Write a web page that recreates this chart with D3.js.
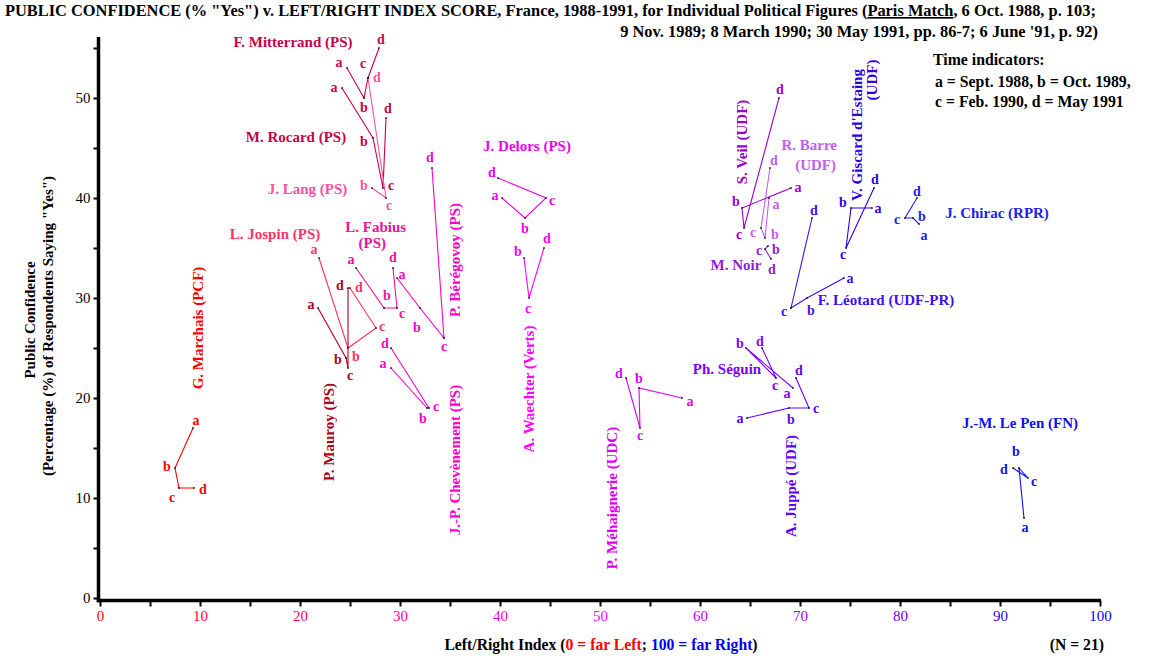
<!DOCTYPE html>
<html>
<head>
<meta charset="utf-8">
<script src="https://cdn.jsdelivr.net/npm/d3@7"></script>
<style>
body { margin: 0; background: #fff; }
svg text { font-family: "Liberation Serif", "Times New Roman", serif; }
</style>
</head>
<body>
<div id="container"></div>
<script>
// figures, in the order of the survey table
const figures = [
	"F. Mitterrand (PS)", "M. Rocard (PS)", "J. Lang (PS)", "L. Jospin (PS)",
	"P. Mauroy (PS)", "L. Fabius (PS)", "P. Bérégovoy (PS)", "J.-P. Chevènement (PS)",
	"G. Marchais (PCF)", "J. Delors (PS)", "A. Waechter (Verts)", "P. Méhaignerie (UDC)",
	"S. Veil (UDF)", "R. Barre (UDF)", "M. Noir", "Ph. Séguin",
	"A. Juppé (UDF)", "F. Léotard (UDF-PR)", "V. Giscard d'Estaing (UDF)", "J. Chirac (RPR)",
	"J.-M. Le Pen (FN)"
];

const timeLetters = ["a", "b", "c", "d"];

// left/right index score at a, b, c, d (null = not asked)
const leftRight = [
	[24.7, 26.4, 26.8, 27.9],
	[24.2, 27.3, 28.3, 28.6],
	[null, 27.2, 28.6, 26.8],
	[21.9, 24.8, 27.6, 25.0],
	[21.8, 24.6, 24.8, 24.8],
	[25.6, 28.4, 29.7, 29.3],
	[29.7, 32.0, 34.4, 33.2],
	[29.1, 32.7, 32.9, 29.1],
	[9.3, 7.5, 7.9, 9.4],
	[40.2, 42.5, 44.6, 39.8],
	[null, 42.4, 42.9, 44.4],
	[58.2, 53.9, 54.0, 52.6],
	[69.1, 64.2, 64.4, 67.9],
	[66.9, 66.5, 66.1, 67.0],
	[null, 66.8, 66.5, 67.1],
	[69.3, 64.6, 67.6, 66.2],
	[64.7, 68.9, 70.9, 69.6],
	[74.4, 70.7, 69.1, 71.2],
	[77.2, 75.1, 74.6, 77.4],
	[81.9, 81.3, 80.5, 81.7],
	[92.4, 91.9, 92.8, 91.3]
];

// public confidence, % "yes"
const confidence = [
	[53, 50, 52, 55],
	[51, 46, 41, 48],
	[null, 41, 40, 52],
	[34, 25, 27, 31],
	[29, 24, 23, 31],
	[33, 29, 29, 33],
	[32, 29, 26, 43],
	[23, 19, 19, 25],
	[17, 13, 11, 11],
	[40, 38, 40, 42],
	[null, 34, 30, 35],
	[20, 21, 17, 22],
	[41, 39, 37, 50],
	[40, 36, 37, 43],
	[null, 35.2, 34.9, 33.9],
	[21, 25, 22, 25],
	[18, 19, 19, 22],
	[32, 30, 29, 38],
	[39, 39, 35, 41],
	[37.4, 38, 38, 40],
	[8, 13, 12, 13]
];

const xTicks = d3.range(0, 101, 5);
const xTickLabels = [0, 10, 20, 30, 40, 50, 60, 70, 80, 90, 100];
const yTicks = d3.range(0, 56, 5);
const yTickLabels = [0, 10, 20, 30, 40, 50];

// ---- styles / layout (not data) ----
const figColors = [
	"#c8004a", "#c8004a", "#ff4f9f", "#ff3366", "#b00020", "#f0109a", "#ff00c8", "#ff00cc",
	"#ff0000", "#ee00ee", "#ff00ff", "#e000f0", "#9900cc", "#c060f0", "#9020d0", "#8000ff",
	"#6000ff", "#4010f0", "#3000e0", "#2020f0", "#1010f0"
];

// pixel offsets of the a/b/c/d letters from their point
const letterOffsets = [
	[[-8,-6],[0,9],[-5,-15],[2,-9]],
	[[-8,-1],[-9,3],[8,-3],[2,-10]],
	[null,[-8,-3],[3,7],[9,-1]],
	[[-5,-9],[8,8],[6,-2],[9,-1]],
	[[-7,-4],[-8,1],[2,7],[-8,-3]],
	[[-5,-9],[3,-13],[5,5],[0,-11]],
	[[5,-4],[-3,19],[0,8],[-2,-11]],
	[[-8,-5],[-4,10],[7,-2],[-6,-5]],
	[[3,-8],[-8,-2],[-7,9],[9,1]],
	[[-7,-3],[0,10],[6,2],[-6,-6]],
	[null,[-6,-7],[-1,10],[3,-10]],
	[[8,3],[0,-10],[0,7],[-7,-5]],
	[[7,-1],[-6,-7],[-5,6],[1,-9]],
	[[7,6],[10,-4],[-8,4],[4,-8]],
	[null,[8,3],[-6,1],[1,10]],
	[[-6,5],[-6,-5],[-1,7],[-2,-7]],
	[[-7,0],[2,11],[7,0],[3,-8]],
	[[6,0],[4,12],[-7,3],[2,-8]],
	[[6,0],[-8,-6],[-3,6],[1,-9]],
	[[5,11],[9,-2],[-8,1],[0,-7]],
	[[1,9],[-3,-17],[6,3],[-9,1]]
];

// name labels: figure, text, x (index units), y (%), rotated, anchor
const nameLabels = [
	[0, "F. Mitterrand (PS)", 19.3, 55.6, false, "middle"],
	[1, "M. Rocard (PS)", 19.6, 46.1, false, "middle"],
	[2, "J. Lang (PS)", 20.75, 40.9, false, "middle"],
	[3, "L. Jospin (PS)", 17.5, 36.4, false, "middle"],
	[4, "P. Mauroy (PS)", 22.9, 16.6, true, "middle"],
	[5, "L. Fabius", 27.57, 37.07, false, "middle"],
	[5, "(PS)", 27.23, 35.47, false, "middle"],
	[6, "P. Bérégovoy (PS)", 35.5, 33.8, true, "middle"],
	[7, "J.-P. Chevènement (PS)", 35.5, 13.8, true, "middle"],
	[8, "G. Marchais (PCF)", 9.8, 27.0, true, "middle"],
	[9, "J. Delors (PS)", 42.7, 45.2, false, "middle"],
	[10, "A. Waechter (Verts)", 42.9, 20.9, true, "middle"],
	[11, "P. Méhaignerie (UDC)", 51.2, 10.0, true, "middle"],
	[12, "S. Veil (UDF)", 64.2, 45.6, true, "middle"],
	[13, "R. Barre", 73.7, 45.3, false, "end"],
	[13, "(UDF)", 73.6, 43.3, false, "end"],
	[14, "M. Noir", 63.6, 33.3, false, "middle"],
	[15, "Ph. Séguin", 62.7, 22.9, false, "middle"],
	[16, "A. Juppé (UDF)", 69.1, 11.2, true, "middle"],
	[17, "F. Léotard (UDF-PR)", 78.6, 29.8, false, "middle"],
	[18, "V. Giscard d'Estaing", 75.7, 46.3, true, "middle"],
	[18, "(UDF)", 77.2, 51.8, true, "middle"],
	[19, "J. Chirac (RPR)", 89.7, 38.5, false, "middle"],
	[20, "J.-M. Le Pen (FN)", 92.0, 17.5, false, "middle"]
];

const width = 1150, height = 665;

const svg = d3.select("#container")
	.append("svg")
	.attr("width", width)
	.attr("height", height);

const x = d3.scaleLinear().domain([0, 100]).range([100, 1100]);
const y = d3.scaleLinear().domain([0, 56.1]).range([598, 37]);

const tickColor = d3.scaleLinear()
	.domain([0, 50, 100])
	.range(["#ff0000", "#ff00ff", "#0000ff"]);

// title
const title = svg.append("g").attr("font-weight", "bold").attr("font-size", 16.4);
const t1 = title.append("text").attr("x", 5).attr("y", 16);
t1.append("tspan").text("PUBLIC CONFIDENCE (% \"Yes\") v. LEFT/RIGHT INDEX SCORE, France, 1988-1991, for Individual Political Figures (");
t1.append("tspan").attr("text-decoration", "underline").text("Paris Match");
t1.append("tspan").text(", 6 Oct. 1988, p. 103;");
title.append("text")
	.attr("x", 1098).attr("y", 37)
	.attr("text-anchor", "end")
	.text("9 Nov. 1989; 8 March 1990; 30 May 1991, pp. 86-7; 6 June '91, p. 92)");

// legend
const legend = svg.append("g").attr("font-weight", "bold").attr("font-size", 15.8);
legend.append("text").attr("x", 933).attr("y", 65).text("Time indicators:");
legend.append("text").attr("x", 935).attr("y", 87).text("a = Sept. 1988, b = Oct. 1989,");
legend.append("text").attr("x", 935).attr("y", 107).text("c = Feb. 1990, d = May 1991");

// axes
const yAxis = d3.axisLeft(y)
	.tickValues(yTicks)
	.tickSize(5)
	.tickPadding(3)
	.tickFormat(d => yTickLabels.includes(d) ? d : "");

const yAxis_box = svg.append("g")
	.attr("class", "y_axis")
	.attr("transform", "translate(98.5,0)")
	.call(yAxis);

const xAxis = d3.axisBottom(x)
	.tickValues(xTicks)
	.tickSize(6)
	.tickPadding(3.5)
	.tickFormat(d => xTickLabels.includes(d) ? d : "");

const xAxis_box = svg.append("g")
	.attr("class", "x_axis")
	.attr("transform", "translate(0,600.5)")
	.call(xAxis);

svg.selectAll(".x_axis .domain, .y_axis .domain").remove();
svg.selectAll(".x_axis .tick line, .y_axis .tick line")
	.attr("stroke", "#000")
	.attr("stroke-width", 2);
svg.selectAll(".x_axis text, .y_axis text")
	.attr("font-family", "Liberation Serif, serif")
	.attr("font-size", 15);
yAxis_box.selectAll("text").attr("fill", "#000");
xAxis_box.selectAll("text").attr("fill", d => tickColor(d));

svg.append("line")
	.attr("x1", 98.5).attr("x2", 98.5)
	.attr("y1", 37).attr("y2", 602.25)
	.attr("stroke", "#000").attr("stroke-width", 3.5);
svg.append("line")
	.attr("x1", 96.75).attr("x2", 1101)
	.attr("y1", 600.5).attr("y2", 600.5)
	.attr("stroke", "#000").attr("stroke-width", 3.5);

// axis titles
const xTitle = svg.append("text")
	.attr("x", 601).attr("y", 650)
	.attr("text-anchor", "middle")
	.attr("font-weight", "bold")
	.attr("font-size", 15.7);
xTitle.append("tspan").text("Left/Right Index (");
xTitle.append("tspan").attr("fill", "#ff0000").text("0 = far Left");
xTitle.append("tspan").text("; ");
xTitle.append("tspan").attr("fill", "#0000ff").text("100 = far Right");
xTitle.append("tspan").text(")");

svg.append("text")
	.attr("x", 1104).attr("y", 650)
	.attr("text-anchor", "end")
	.attr("font-weight", "bold")
	.attr("font-size", 15.7)
	.text("(N = " + figures.length + ")");

const yTitle = svg.append("g")
	.attr("transform", "translate(30,320) rotate(-90)")
	.attr("font-weight", "bold")
	.attr("font-size", 15)
	.attr("text-anchor", "middle");
yTitle.append("text").attr("x", 0).attr("y", 5).text("Public Confidence");
yTitle.append("text").attr("x", -6).attr("y", 23).text("(Percentage (%) of Respondents Saying \"Yes\")");

// figure tracks
const tracks = figures.map((name, i) => ({
	name: name,
	color: figColors[i],
	points: timeLetters.map((t, j) => ({
		letter: t,
		lr: leftRight[i][j],
		conf: confidence[i][j],
		off: letterOffsets[i][j]
	})).filter(p => p.lr !== null)
}));

const lineGenerator = d3.line()
	.x(d => x(d.lr))
	.y(d => y(d.conf));

const plot = svg.append("g").attr("class", "plot");

const track = plot.selectAll("g.track")
	.data(tracks)
	.enter()
	.append("g")
	.attr("class", "track");

track.append("path")
	.attr("d", d => lineGenerator(d.points))
	.attr("fill", "none")
	.attr("stroke", d => d.color)
	.attr("stroke-width", 1.1);

track.selectAll("rect")
	.data(d => d.points)
	.enter()
	.append("rect")
	.attr("x", d => x(d.lr) - 0.75)
	.attr("y", d => y(d.conf) - 0.75)
	.attr("width", 1.5)
	.attr("height", 1.5)
	.attr("fill", "#000");

track.selectAll("text")
	.data(d => d.points.map(p => Object.assign({ color: d.color }, p)))
	.enter()
	.append("text")
	.attr("x", d => x(d.lr) + d.off[0])
	.attr("y", d => y(d.conf) + d.off[1])
	.attr("text-anchor", "middle")
	.attr("dominant-baseline", "central")
	.attr("font-weight", "bold")
	.attr("font-size", 14)
	.attr("fill", d => d.color)
	.text(d => d.letter);

// name labels
const names = plot.append("g").attr("class", "names");
names.selectAll("text")
	.data(nameLabels)
	.enter()
	.append("text")
	.attr("transform", d => "translate(" + x(d[2]) + "," + y(d[3]) + ")" + (d[4] ? " rotate(-90)" : ""))
	.attr("text-anchor", d => d[5])
	.attr("dominant-baseline", "central")
	.attr("font-weight", "bold")
	.attr("font-size", 15)
	.attr("fill", d => figColors[d[0]])
	.text(d => d[1]);
</script>
</body>
</html>
